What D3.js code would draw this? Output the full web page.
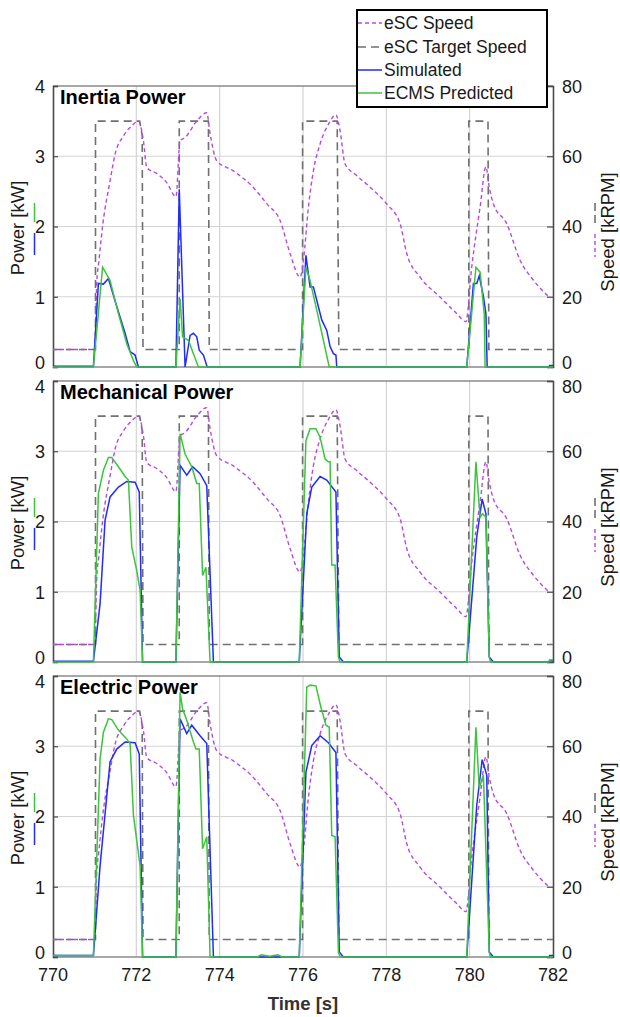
<!DOCTYPE html>
<html><head><meta charset="utf-8">
<script src="https://cdn.jsdelivr.net/npm/d3@7/dist/d3.min.js"></script>
<style>body{margin:0;background:#fff;font-family:"Liberation Sans",Arial,sans-serif}</style>
</head><body><svg id="c" width="620" height="1017"></svg>
<script>
// ---- data ----
const panelTitles = ["Inertia Power", "Mechanical Power", "Electric Power"];
const timeTicks = [770, 772, 774, 776, 778, 780, 782];
const powerTicks = [0, 1, 2, 3, 4];
const speedTicks = [0, 20, 40, 60, 80];
const legendLabels = ["eSC Speed", "eSC Target Speed", "Simulated", "ECMS Predicted"];

// eSC speed [t, kRPM]
const escSpeed = [[770,5],[771.0,5],[771.05,24],[771.1,30],[771.2,41],[771.37,53],[771.49,60.6],[771.69,65.8],[771.89,68.7],[772.05,70],
 [772.17,64.4],[772.25,56.8],[772.5,55],[772.73,52.5],[772.95,48.5],[773.05,64.4],[773.17,65.3],[773.45,70],[773.69,72.4],
 [773.77,66.4],[773.93,58.7],[774.32,55.9],[774.8,51.2],[775.13,46.5],[775.45,41.7],[775.69,32.3],[775.93,25.6],
 [776.01,30.4],[776.13,45.5],[776.25,55.9],[776.41,63.5],[776.61,69.1],[776.79,71.8],[776.89,67.2],[777.01,57.8],
 [777.29,54.5],[777.61,51.2],[778.01,46.4],[778.33,40.8],[778.49,32.3],[778.81,25.6],[779.29,19.9],[779.69,15.2],
 [779.91,12.9],[780.05,28.5],[780.25,45.5],[780.39,57],[780.47,51.2],[780.57,46.4],[780.89,40.8],[781.21,30.4],
 [781.53,24.7],[781.9,20]];
// eSC target speed [t, kRPM]
const targetSpeed = [[770,5],[771.02,5],[771.02,70],[772.08,70],[772.14,66],[772.16,5],[773.03,5],[773.03,70],[773.73,70],[773.75,5],
 [775.99,5],[775.99,70],[776.82,70],[776.86,5],[779.98,5],[779.98,70],[780.44,70],[780.46,5],[782,5]];

// power [t, kW]
const inertiaSim = [[770,0.01],[770.97,0.01],[771.09,1.19],[771.21,1.18],[771.33,1.26],[771.53,0.86],[771.73,0.48],[771.85,0.22],[771.97,0.17],[772.05,0],
 [772.95,0],[773.03,2.53],[773.17,0],[773.29,0.45],[773.37,0.48],[773.45,0.43],[773.51,0.24],[773.61,0.17],[773.7,0],
 [775.93,0],[776.07,1.59],[776.17,1.14],[776.25,1.14],[776.33,0.95],[776.45,0.67],[776.57,0.52],[776.65,0.29],[776.73,0.19],[776.79,0.17],[776.81,0],
 [779.93,0],[780.09,1.19],[780.17,1.19],[780.23,1.3],[780.33,1.0],[780.39,0.76],[780.42,0],[781.9,0],[781.92,0.02],[782,0.02]];
const inertiaEcms = [[770,0],[770.97,0],[771.19,1.42],[771.37,1.23],[771.57,0.76],[771.77,0.33],[771.93,0.09],[772.01,0],
 [772.95,0],[773.05,0.97],[773.11,0.43],[773.25,0.38],[773.37,0.19],[773.49,0],
 [775.93,0],[776.07,1.42],[776.17,1.23],[776.33,0.81],[776.49,0.38],[776.63,0],
 [779.93,0],[780.15,1.42],[780.25,1.35],[780.35,0.76],[780.37,0],[782,0]];
const mechSim = [[770,0.01],[770.97,0.01],[771.13,0.83],[771.25,2.02],[771.37,2.35],[771.57,2.49],[771.77,2.57],[771.97,2.56],[772.07,2.42],[772.15,0],
 [772.95,0],[773.05,2.8],[773.21,2.66],[773.35,2.78],[773.53,2.68],[773.69,2.51],[773.85,0],
 [775.91,0],[776.09,2.11],[776.21,2.49],[776.41,2.64],[776.57,2.59],[776.79,2.42],[776.87,0.07],[776.97,0],
 [779.93,0],[780.17,1.78],[780.3,2.32],[780.39,2.11],[780.47,0.07],[780.57,0],[781.9,0],[781.92,0.02],[782,0.02]];
const mechEcms = [[770,0],[770.97,0],[771.09,2.4],[771.21,2.73],[771.33,2.91],[771.41,2.91],[771.57,2.78],[771.73,2.64],[771.81,2.59],[771.89,1.64],[772.01,1.3],[772.09,1.02],[772.15,0],
 [772.95,0],[773.05,3.25],[773.17,2.96],[773.33,2.78],[773.45,2.54],[773.51,2.54],[773.59,1.23],[773.67,1.35],[773.77,0],
 [775.91,0],[776.07,3.15],[776.17,3.32],[776.31,3.32],[776.41,3.2],[776.53,2.89],[776.61,2.85],[776.65,2.85],[776.69,1.38],[776.77,1.38],[776.85,0.07],[776.89,0],
 [779.93,0],[780.15,2.85],[780.25,2.06],[780.31,2.11],[780.39,2.06],[780.47,0.07],[780.5,0],[781.9,0],[781.92,0.03],[782,0.03]];
const elecSim = [[770,0.02],[770.97,0.02],[771.13,1.3],[771.37,2.78],[771.53,2.96],[771.73,3.06],[771.97,3.05],[772.07,2.89],[772.15,0],
 [772.95,0],[773.05,3.39],[773.21,3.18],[773.33,3.3],[773.53,3.15],[773.69,3.04],[773.85,0],
 [775.91,0],[776.07,2.63],[776.21,3.01],[776.41,3.15],[776.61,3.05],[776.79,2.91],[776.87,0.07],[776.97,0],
 [779.93,0],[780.17,2.16],[780.3,2.81],[780.41,2.59],[780.47,0.07],[780.57,0],[781.9,0],[781.92,0.02],[782,0.02]];
const elecEcms = [[770,0.02],[770.97,0.02],[771.13,2.82],[771.21,3.2],[771.33,3.39],[771.41,3.38],[771.57,3.23],[771.73,3.13],[771.85,3.04],[771.93,2.02],[772.09,1.3],[772.15,0],
 [772.95,0],[773.05,3.77],[773.11,3.53],[773.21,3.37],[773.37,3.06],[773.43,2.96],[773.51,2.96],[773.59,1.54],[773.69,1.71],[773.77,0],
 [774.9,0],[775.0,0.03],[775.2,0.01],[775.4,0.03],[775.5,0],
 [775.91,0],[776.09,3.84],[776.17,3.87],[776.31,3.86],[776.42,3.58],[776.55,3.3],[776.63,3.27],[776.69,1.73],[776.77,1.71],[776.85,0.07],[776.89,0],
 [779.93,0],[780.15,3.27],[780.23,2.4],[780.33,2.59],[780.47,0.07],[780.5,0],[782,0]];

const simSeries = [inertiaSim, mechSim, elecSim];
const ecmsSeries = [inertiaEcms, mechEcms, elecEcms];

// ---- styles ----
const C = {speed:"#b44ae0", target:"#707070", sim:"#1f2bff", ecms:"#3cc43c", grid:"#d4d4d4", axis:"#4a4a4a", text:"#1a1a1a"};
const svg = d3.select("#c");
const L = 53, R = 553;
const tops = [86, 381, 676], H = 281;
const x = d3.scaleLinear().domain([770, 782]).range([L, R]);

tops.forEach((top, i) => {
  const yP = d3.scaleLinear().domain([0, 4]).range([top + H, top]);
  const yS = d3.scaleLinear().domain([0, 80]).range([top + H, top]);
  const g = svg.append("g");
  // grid
  g.selectAll(".vg").data(timeTicks.slice(1, -1)).join("line")
    .attr("x1", d => x(d)).attr("x2", d => x(d)).attr("y1", top).attr("y2", top + H)
    .attr("stroke", C.grid).attr("stroke-width", 1.2);
  g.selectAll(".hg").data(powerTicks.slice(1, -1)).join("line")
    .attr("x1", L).attr("x2", R).attr("y1", d => yP(d)).attr("y2", d => yP(d))
    .attr("stroke", C.grid).attr("stroke-width", 1.2);
  // frame
  g.append("line").attr("x1", L).attr("x2", R).attr("y1", top).attr("y2", top).attr("stroke", "#8a8a8a").attr("stroke-width", 1.5);
  g.append("line").attr("x1", L).attr("x2", R).attr("y1", top + H).attr("y2", top + H).attr("stroke", "#8a8a8a").attr("stroke-width", 1.5);
  // axes
  const ax = d3.axisLeft(yP).tickValues(powerTicks).tickSize(-5).tickPadding(8).tickFormat(d3.format("d"));
  const ga = g.append("g").attr("transform", `translate(${L},0)`).call(ax);
  const ar = d3.axisRight(yS).tickValues(speedTicks).tickSize(-6).tickPadding(9).tickFormat(d3.format("d"));
  const gr = g.append("g").attr("transform", `translate(${R},0)`).call(ar);
  const last = powerTicks.length - 1;
  [ga, gr].forEach(a => {
    a.select(".domain").attr("stroke", C.axis).attr("stroke-width", 1.6);
    a.selectAll(".tick line").attr("stroke", C.axis).attr("stroke-width", 1.2);
    a.selectAll("text").attr("font-size", 18).attr("fill", C.text).attr("font-family", "Liberation Sans, Arial, sans-serif");
    // keep stacked panels' end labels apart
    a.selectAll(".tick text").attr("dy", (d, k) => {
      if (k === 0) return "0.08em";
      if (k === last && i > 0) return "0.62em";
      return "0.36em";
    });
  });

  const line = (ys) => d3.line().x(d => x(d[0])).y(d => ys(d[1]));
  g.append("path").datum(targetSpeed).attr("d", line(yS)).attr("fill", "none")
    .attr("stroke", C.target).attr("stroke-width", 1.6).attr("stroke-dasharray", "8,5");
  g.append("path").datum(escSpeed).attr("d", line(yS).curve(d3.curveMonotoneX)).attr("fill", "none")
    .attr("stroke", C.speed).attr("stroke-width", 1.4).attr("stroke-dasharray", "4,3");
  g.append("path").datum(simSeries[i]).attr("d", line(yP)).attr("fill", "none")
    .attr("stroke", C.sim).attr("stroke-width", 1.5);
  g.append("path").datum(ecmsSeries[i]).attr("d", line(yP)).attr("fill", "none")
    .attr("stroke", C.ecms).attr("stroke-width", 1.5);

  // title
  g.append("text").attr("x", 60).attr("y", top + 18).attr("font-size", 20).attr("font-weight", "bold")
    .attr("fill", "#000").text(panelTitles[i]);
  // y labels
  const cy = top + 142;
  g.append("text").attr("transform", `translate(24,${cy}) rotate(-90)`).attr("text-anchor", "middle")
    .attr("font-size", 18.5).attr("fill", C.text).text("Power [kW]");
  g.append("line").attr("x1", 34.5).attr("x2", 34.5).attr("y1", top + 117).attr("y2", top + 136).attr("stroke", C.ecms).attr("stroke-width", 1.5);
  g.append("line").attr("x1", 34.5).attr("x2", 34.5).attr("y1", top + 147).attr("y2", top + 169).attr("stroke", C.sim).attr("stroke-width", 1.5);
  g.append("text").attr("transform", `translate(614,${cy + 4}) rotate(-90)`).attr("text-anchor", "middle")
    .attr("font-size", 18.5).attr("fill", C.text).text("Speed [kRPM]");
  g.append("line").attr("x1", 595).attr("x2", 595).attr("y1", top + 117).attr("y2", top + 141).attr("stroke", C.target).attr("stroke-width", 1.6).attr("stroke-dasharray", "8,4");
  g.append("line").attr("x1", 595).attr("x2", 595).attr("y1", top + 148).attr("y2", top + 171).attr("stroke", C.speed).attr("stroke-width", 1.4).attr("stroke-dasharray", "4,3");
});

// x axis labels
const xb = tops[2] + H;
svg.append("g").selectAll("text").data(timeTicks).join("text")
  .attr("x", d => x(d)).attr("y", xb + 24).attr("text-anchor", "middle").attr("font-size", 18).attr("fill", C.text).text(d => d);
svg.append("text").attr("x", 303).attr("y", xb + 53).attr("text-anchor", "middle").attr("font-size", 18.5)
  .attr("font-weight", "bold").attr("fill", "#333").text("Time [s]");

// legend
const lg = svg.append("g");
lg.append("rect").attr("x", 357).attr("y", 10).attr("width", 190).attr("height", 97).attr("fill", "#fff").attr("stroke", "#000").attr("stroke-width", 2);
const legStyles = [
  {c: C.speed, dash: "4,3"}, {c: C.target, dash: "8,5"}, {c: C.sim, dash: null}, {c: C.ecms, dash: null}];
const legY = [23, 47, 70, 93];
legendLabels.forEach((t, k) => {
  const l = lg.append("line").attr("x1", 358).attr("x2", 382).attr("y1", legY[k]).attr("y2", legY[k])
    .attr("stroke", legStyles[k].c).attr("stroke-width", 1.5);
  if (legStyles[k].dash) l.attr("stroke-dasharray", legStyles[k].dash);
  lg.append("text").attr("x", 384).attr("y", legY[k]).attr("dy", "0.35em").attr("font-size", 17.5).attr("fill", C.text).text(t);
});
</script></body></html>
